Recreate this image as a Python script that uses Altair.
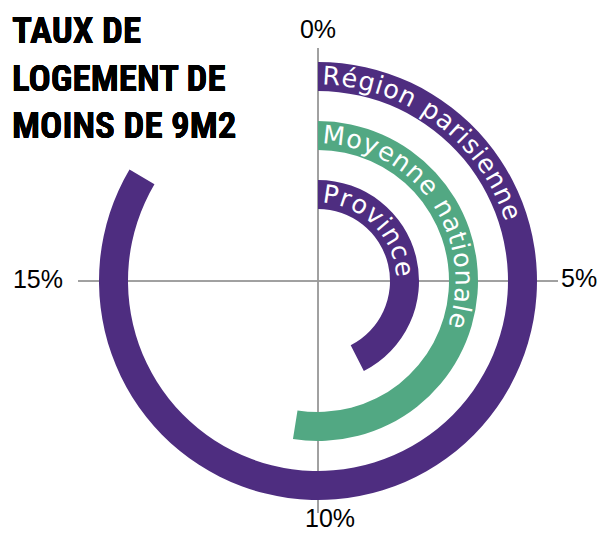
import math
import altair as alt
import pandas as pd

# ---- data ----
categories = ["Province", "Moyenne nationale", "Région parisienne"]
values = [8.5, 10.5, 16.7]          # % of dwellings under 9 m2
colors = ["#4E2D80", "#52A883", "#4E2D80"]
tick_values = [0, 5, 10, 15]
tick_labels = ["0%", "5%", "10%", "15%"]
title_lines = ["TAUX DE", "LOGEMENT DE", "MOINS DE 9M2"]

# ---- layout constants ----
FULL = 20                 # one full turn = 20 %
CX, CY = 310, 273         # centre of the rings inside the view
R0, STEP, BAND = 72, 59, 29
FS, TRACK, BASE_OFF, START_GAP = 25.5, 0.9, 6.5, 4
LABEL_FONT = "DejaVu Sans"
TICK_FONT = "Liberation Sans"
TITLE_FONT = "Liberation Sans Narrow, Roboto Condensed, Roboto"

# approximate DejaVu Sans advance widths (em)
W = {" ": .318, "R": .695, "é": .615, "e": .615, "g": .635, "i": .278, "o": .612,
     "n": .634, "p": .635, "a": .613, "r": .411, "s": .521, "M": .863, "y": .592,
     "t": .392, "l": .278, "P": .603, "v": .592, "c": .550}

df = pd.DataFrame({"cat": categories, "value": values,
                   "ring": list(range(len(categories))), "start": 0.0})

rows = []
for i, cat in enumerate(categories):
    rb = R0 + i * STEP + BASE_OFF
    s = START_GAP
    for ch in cat:
        w = W.get(ch, .6) * FS
        if ch != " ":
            ang = (s + w / 2) / rb
            rows.append({"ch": ch, "ring": i, "theta": ang / (2 * math.pi) * FULL,
                         "rot": math.degrees(ang)})
        s += w + TRACK
chars = pd.DataFrame(rows)
ticks = pd.DataFrame({"t": tick_values, "label": tick_labels})

theta_scale = alt.Scale(domain=[0, FULL], range=[0, 2 * math.pi])
radius_scale = alt.Scale(type="linear", domain=[0, 2], range=[R0, R0 + 2 * STEP], zero=False)

rule_v = alt.Chart(ticks).mark_rule(color="#9a9a9a", strokeWidth=1).encode(
    x=alt.value(CX), y=alt.value(CY - 233), y2=alt.value(CY + 232))
rule_h = alt.Chart(ticks).mark_rule(color="#9a9a9a", strokeWidth=1).encode(
    y=alt.value(CY), x=alt.value(CX - 240), x2=alt.value(CX + 240))

arcs = alt.Chart(df).mark_arc(radiusOffset=BAND).encode(
    x=alt.value(CX), y=alt.value(CY),
    theta=alt.Theta("start:Q", scale=theta_scale, stack=None),
    theta2=alt.Theta2("value:Q"),
    radius=alt.Radius("ring:Q", scale=radius_scale),
    radius2=alt.Radius2("ring:Q"),
    color=alt.Color("cat:N", scale=alt.Scale(domain=categories, range=colors), legend=None),
)

arc_text = alt.Chart(chars).mark_text(
    font=LABEL_FONT, fontSize=FS, color="white", align="center",
    baseline="alphabetic", radiusOffset=BASE_OFF).encode(
    x=alt.value(CX), y=alt.value(CY),
    theta=alt.Theta("theta:Q", scale=theta_scale, stack=None),
    radius=alt.Radius("ring:Q", scale=radius_scale),
    angle=alt.Angle("rot:Q", scale=None),
    text="ch:N",
)


def tick_layer(t, align, baseline, r, dx=0, dy=0):
    return alt.Chart(ticks).transform_filter(alt.datum.t == t).mark_text(
        font=TICK_FONT, fontSize=25, color="black", align=align, baseline=baseline,
        dx=dx, dy=dy).encode(
        x=alt.value(CX), y=alt.value(CY),
        theta=alt.Theta("t:Q", scale=theta_scale, stack=None),
        radius=alt.value(r),
        text="label:N",
    )


tick_text = (tick_layer(0, "center", "alphabetic", 243)
             + tick_layer(5, "left", "middle", 243, dy=-2)
             + tick_layer(10, "center", "alphabetic", 246, dx=12)
             + tick_layer(15, "right", "middle", 255, dy=-1))

title = alt.Chart(ticks).mark_text(
    text=title_lines, font=TITLE_FONT, fontSize=37, fontWeight="bold", color="black",
    align="left", baseline="alphabetic", lineHeight=47.5).encode(
    x=alt.value(4), y=alt.value(35))

chart = alt.layer(rule_v, rule_h, arcs, arc_text, tick_text, title).properties(
    width=590, height=527, padding=0, autosize="none"
).configure_view(stroke=None)

chart.save("out.html", embed_options={"renderer": "svg", "actions": False})
